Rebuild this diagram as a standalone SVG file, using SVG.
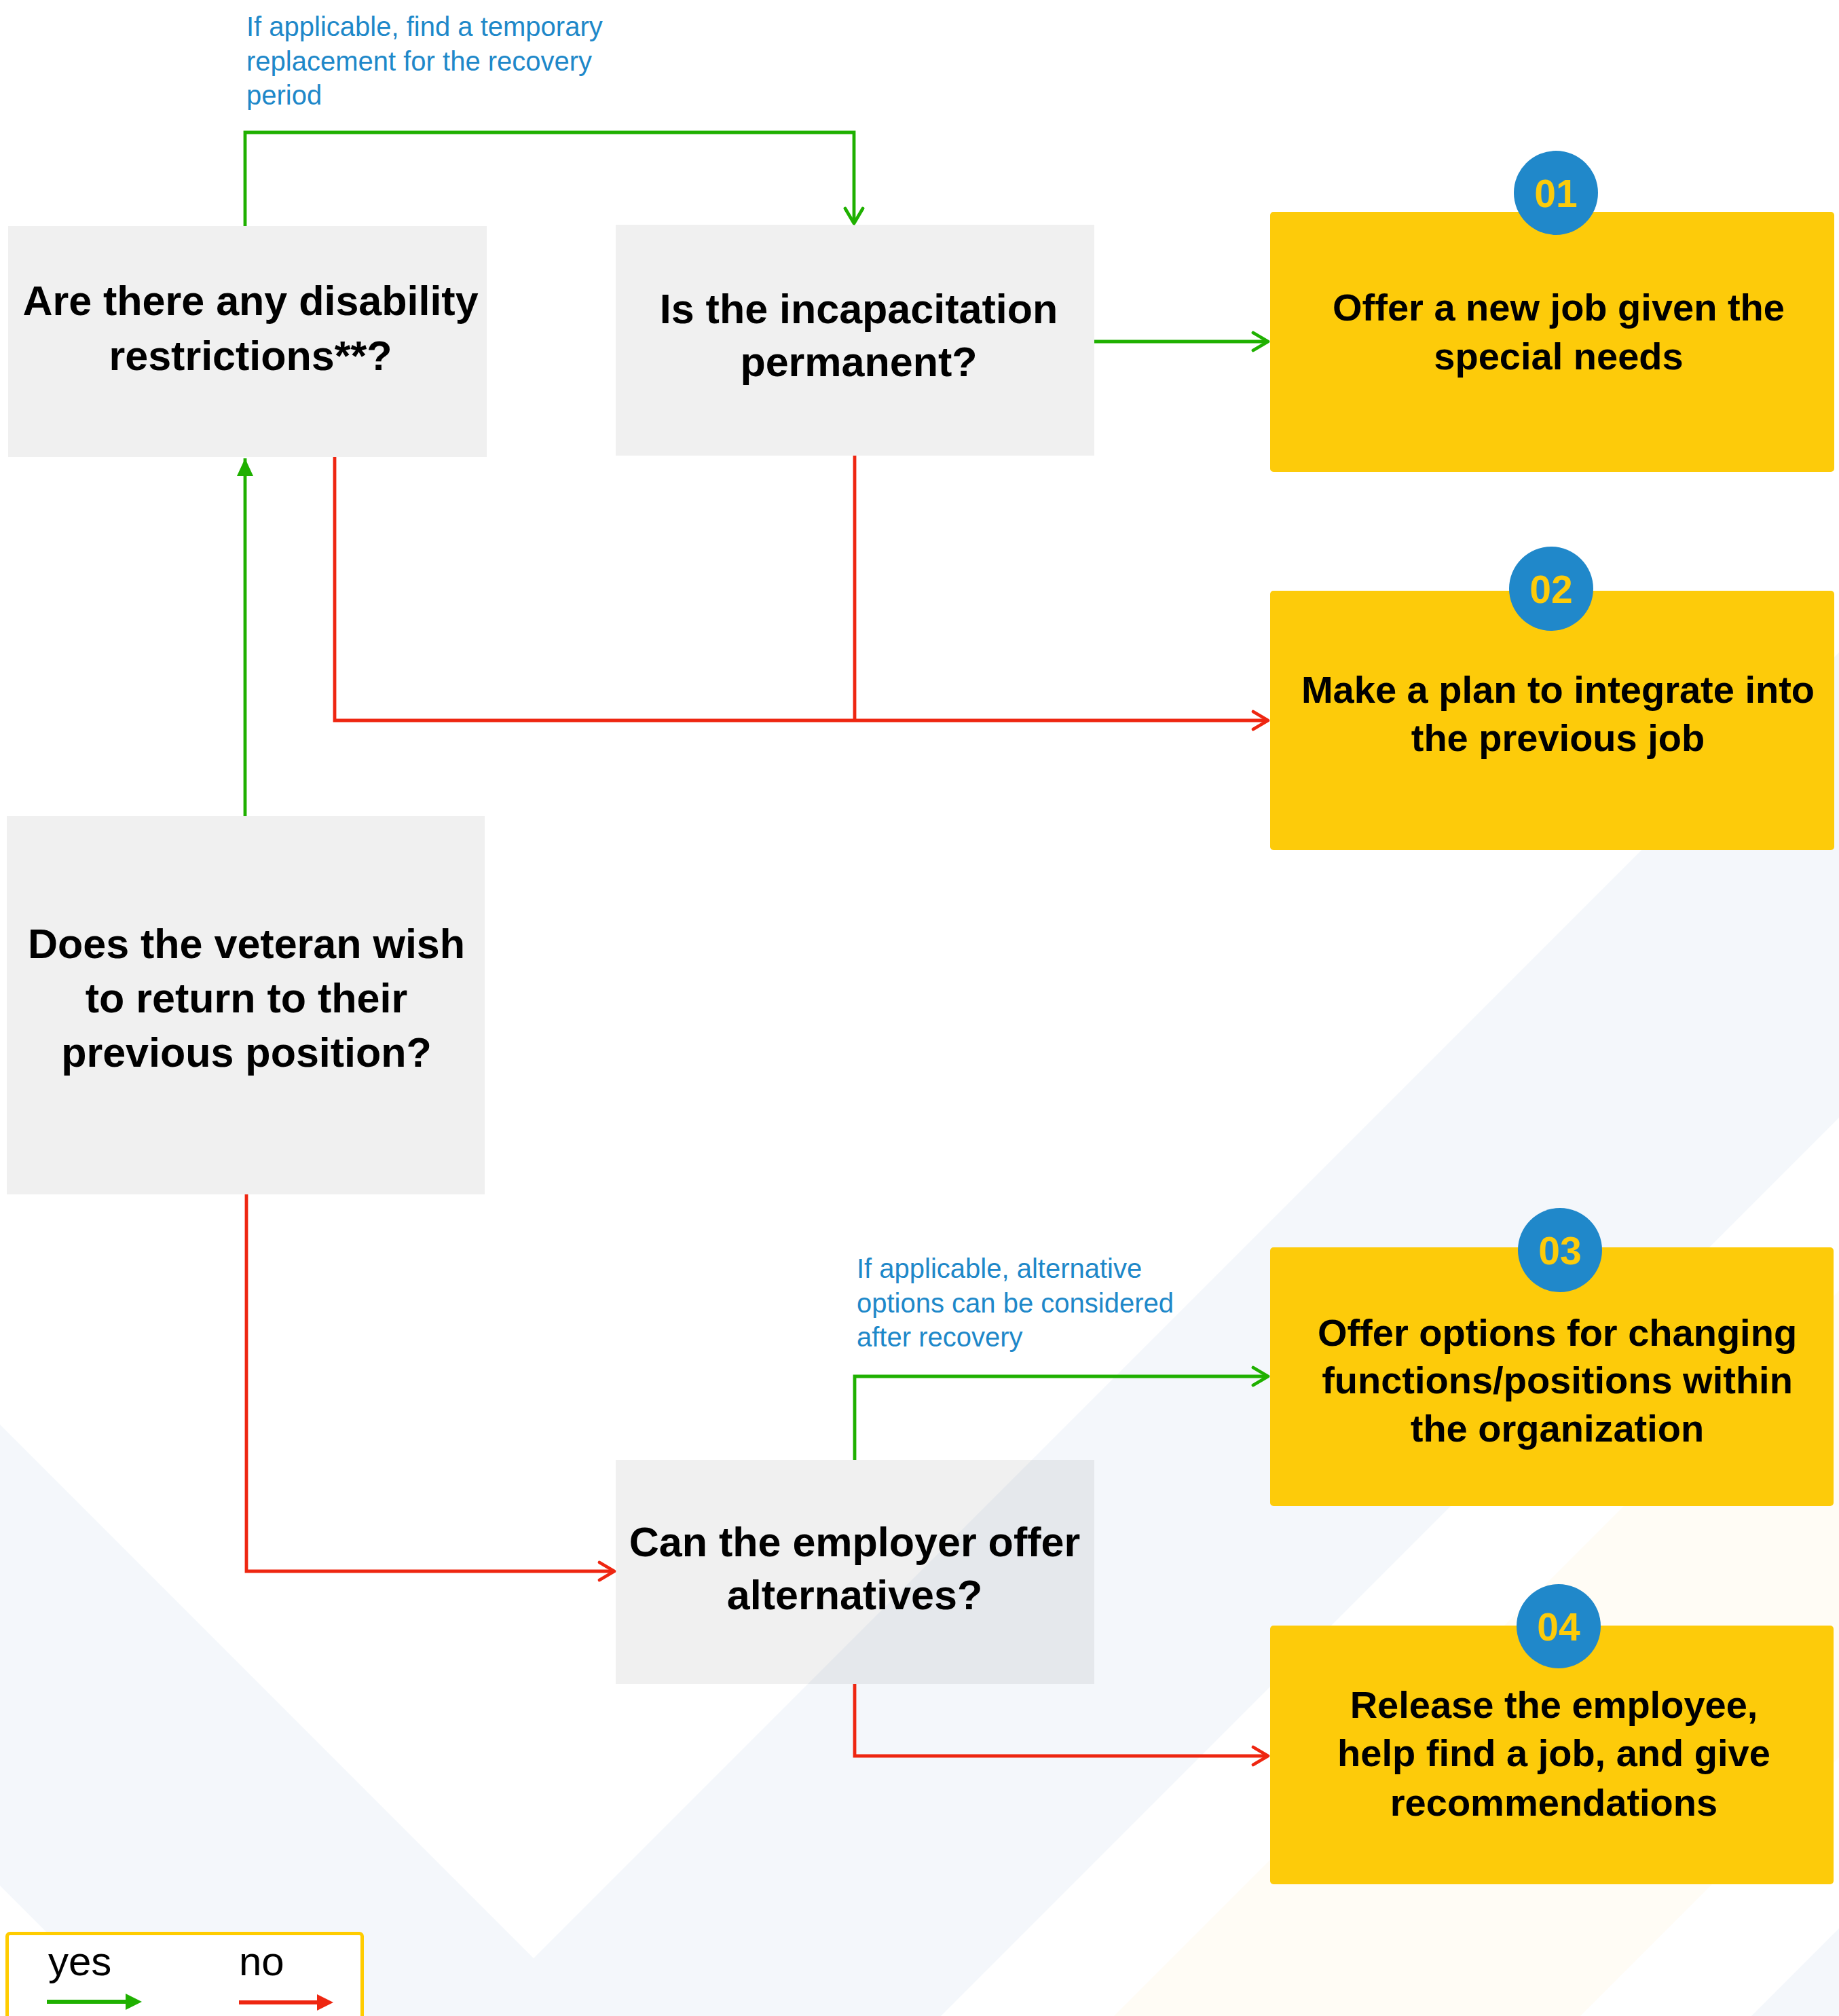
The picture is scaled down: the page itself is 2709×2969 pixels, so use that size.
<svg xmlns="http://www.w3.org/2000/svg" width="2709" height="2969" viewBox="0 0 2709 2969">
  <style>
    .q { fill: #000; fill-opacity: 0.059; }
    .qt { font-family: "Liberation Sans", Arial, sans-serif; font-weight: bold; font-size: 61px; fill: #000; text-anchor: middle; }
    .out { fill: #FDCB0A; }
    .ot { font-family: "Liberation Sans", Arial, sans-serif; font-weight: bold; font-size: 56px; fill: #000; text-anchor: middle; }
    .badge { fill: #2088CA; }
    .bt { font-family: "Liberation Sans", Arial, sans-serif; font-weight: bold; font-size: 57px; fill: #FDCB0A; text-anchor: middle; }
    .note { font-family: "Liberation Sans", Arial, sans-serif; font-size: 40px; fill: #1E88C9; }
    .yes { fill: none; stroke: #1FB000; stroke-width: 4.8; }
    .no { fill: none; stroke: #EE2611; stroke-width: 4.8; }
    .lg { font-family: "Liberation Sans", Arial, sans-serif; font-size: 60px; fill: #000; }
  </style>
  <defs>
    <marker id="openG" viewBox="-28 -18 32 36" refX="0" refY="0" markerWidth="32" markerHeight="36" markerUnits="userSpaceOnUse" orient="auto">
      <path d="M-22,-13 L0,0 L-22,13" fill="none" stroke="#1FB000" stroke-width="4.8" stroke-linejoin="round" stroke-linecap="round"/>
    </marker>
    <marker id="openR" viewBox="-28 -18 32 36" refX="0" refY="0" markerWidth="32" markerHeight="36" markerUnits="userSpaceOnUse" orient="auto">
      <path d="M-22,-13 L0,0 L-22,13" fill="none" stroke="#EE2611" stroke-width="4.8" stroke-linejoin="round" stroke-linecap="round"/>
    </marker>
    <marker id="fillG" viewBox="-28 -14 30 28" refX="0" refY="0" markerWidth="30" markerHeight="28" markerUnits="userSpaceOnUse" orient="auto">
      <path d="M-26,-12 L0,0 L-26,12 Z" fill="#1FB000"/>
    </marker>
  </defs>

  <!-- page background with soft diagonal bands -->
  <rect width="2709" height="2969" fill="#FFFFFF"/>
  <g id="background">
    <polygon points="0,2098 786,2884 2709,961 2709,1646 789,3566 0,2777" fill="#F4F7FB"/>
    <polygon points="2709,1901 2709,2588 2328,2969 1641,2969" fill="#FFFCF5"/>
    <polygon points="2709,2840 2709,2969 2580,2969" fill="#F4F7FB"/>
  </g>

  <!-- connectors -->
  <g id="connectors">
    <path class="yes" d="M361,333 V195 H1258 V329" marker-end="url(#openG)"/>
    <path class="yes" d="M1612,503 H1868" marker-end="url(#openG)"/>
    <path class="no" d="M493,673 V1061 H1868" marker-end="url(#openR)"/>
    <path class="no" d="M1259,671 V1061"/>
    <path class="yes" d="M361,1202 V675" marker-end="url(#fillG)"/>
    <path class="no" d="M363,1759 V2314 H905" marker-end="url(#openR)"/>
    <path class="yes" d="M1259,2150 V2027 H1868" marker-end="url(#openG)"/>
    <path class="no" d="M1259,2480 V2586 H1868" marker-end="url(#openR)"/>
  </g>

  <!-- connector notes -->
  <g id="note-temporary">
    <text class="note" x="363" y="53">If applicable, find a temporary</text>
    <text class="note" x="363" y="104">replacement for the recovery</text>
    <text class="note" x="363" y="154">period</text>
  </g>
  <g id="note-alternatives">
    <text class="note" x="1262" y="1882">If applicable, alternative</text>
    <text class="note" x="1262" y="1933">options can be considered</text>
    <text class="note" x="1262" y="1983">after recovery</text>
  </g>

  <!-- decision nodes -->
  <g id="q-restrictions">
    <rect class="q" x="12" y="333" width="705" height="340"/>
    <text class="qt" x="369" y="464">Are there any disability</text>
    <text class="qt" x="369" y="545">restrictions**?</text>
  </g>
  <g id="q-permanent">
    <rect class="q" x="907" y="331" width="705" height="340"/>
    <text class="qt" x="1265" y="476">Is the incapacitation</text>
    <text class="qt" x="1265" y="554">permanent?</text>
  </g>
  <g id="q-return">
    <rect class="q" x="10" y="1202" width="704" height="557"/>
    <text class="qt" x="363" y="1411">Does the veteran wish</text>
    <text class="qt" x="363" y="1491">to return to their</text>
    <text class="qt" x="363" y="1571">previous position?</text>
  </g>
  <g id="q-alternatives">
    <rect class="q" x="907" y="2150" width="705" height="330"/>
    <text class="qt" x="1259" y="2292">Can the employer offer</text>
    <text class="qt" x="1259" y="2370">alternatives?</text>
  </g>

  <!-- outcome nodes -->
  <g id="out-01">
    <rect class="out" x="1871" y="312" width="831" height="383" rx="5"/>
    <circle class="badge" cx="2292" cy="284" r="62"/>
    <text class="bt" x="2292" y="305">01</text>
    <text class="ot" x="2296" y="472">Offer a new job given the</text>
    <text class="ot" x="2296" y="544">special needs</text>
  </g>
  <g id="out-02">
    <rect class="out" x="1871" y="870" width="831" height="382" rx="5"/>
    <circle class="badge" cx="2285" cy="867" r="62"/>
    <text class="bt" x="2285" y="888">02</text>
    <text class="ot" x="2295" y="1035">Make a plan to integrate into</text>
    <text class="ot" x="2295" y="1106">the previous job</text>
  </g>
  <g id="out-03">
    <rect class="out" x="1871" y="1837" width="830" height="381" rx="5"/>
    <circle class="badge" cx="2298" cy="1841" r="62"/>
    <text class="bt" x="2298" y="1862">03</text>
    <text class="ot" x="2294" y="1982">Offer options for changing</text>
    <text class="ot" x="2294" y="2052">functions/positions within</text>
    <text class="ot" x="2294" y="2123">the organization</text>
  </g>
  <g id="out-04">
    <rect class="out" x="1871" y="2394" width="830" height="381" rx="5"/>
    <circle class="badge" cx="2296" cy="2395" r="62"/>
    <text class="bt" x="2296" y="2416">04</text>
    <text class="ot" x="2289" y="2530">Release the employee,</text>
    <text class="ot" x="2289" y="2601">help find a job, and give</text>
    <text class="ot" x="2289" y="2674">recommendations</text>
  </g>

  <!-- legend -->
  <g id="legend">
    <rect x="10.5" y="2847.5" width="523" height="200" rx="4" fill="#FFFFFF" stroke="#FFCC00" stroke-width="5"/>
    <text class="lg" x="71" y="2909">yes</text>
    <text class="lg" x="352" y="2909">no</text>
    <line x1="69" y1="2948" x2="187" y2="2948" stroke="#1FB000" stroke-width="6"/>
    <polygon points="185,2936 209,2948 185,2960" fill="#1FB000"/>
    <line x1="352" y1="2949" x2="469" y2="2949" stroke="#EE2611" stroke-width="6"/>
    <polygon points="467,2937 491,2949 467,2961" fill="#EE2611"/>
  </g>
</svg>
